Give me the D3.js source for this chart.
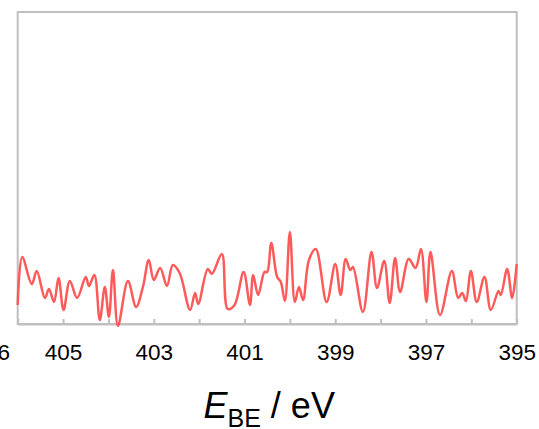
<!DOCTYPE html>
<html>
<head>
<meta charset="utf-8">
<script src="https://cdn.jsdelivr.net/npm/d3@7"></script>
<style>
  body { margin: 0; background: #fff; }
  svg text { font-family: "Liberation Sans", Arial, sans-serif; }
</style>
</head>
<body>
<div id="chart"></div>
<script>
// binding energy (eV) and intensity (arb. units)
var energy = [406.00, 405.90, 405.69, 405.58, 405.40, 405.31, 405.20, 405.10, 404.99, 404.85,
    404.69, 404.50, 404.43, 404.31, 404.19, 404.08, 403.99, 403.90, 403.79, 403.57,
    403.39, 403.24, 403.11, 403.00, 402.86, 402.71, 402.58, 402.43, 402.20, 402.09,
    402.02, 401.81, 401.72, 401.50, 401.37, 401.22, 401.02, 400.88, 400.81, 400.70,
    400.56, 400.50, 400.41, 400.28, 400.20, 400.11, 400.00, 399.89, 399.80, 399.71,
    399.58, 399.43, 399.19, 399.00, 398.88, 398.77, 398.67, 398.61, 398.39, 398.20,
    398.08, 397.92, 397.80, 397.68, 397.57, 397.38, 397.23, 397.11, 396.99, 396.90,
    396.69, 396.43, 396.29, 396.20, 396.12, 396.01, 395.88, 395.71, 395.57, 395.40,
    395.35, 395.21, 395.10, 395.00];
var intensity = [19, 67, 40, 53, 26, 35, 22, 46, 14, 43,
    26, 47, 38, 49, 4, 37, 7, 54, -2, 43,
    17, 37, 64, 44, 56, 38, 59, 51, 14, 31,
    20, 55, 50, 70, 15, 19, 52, 19, 49, 29,
    52, 52, 81, 47, 42, 23, 92, 22, 37, 24,
    64, 75, 22, 60, 29, 65, 54, 57, 12, 72,
    36, 63, 21, 66, 32, 65, 56, 75, 22, 72,
    9, 53, 26, 31, 23, 53, 22, 47, 14, 33,
    29, 55, 26, 60];
var tickValues = [406, 405, 404, 403, 402, 401, 400, 399, 398, 397, 396, 395];
var tickLabels = ["406", "405", "", "403", "", "401", "", "399", "", "397", "", "395"];
var axisTitle = "E";
var axisTitleSub = "BE";
var axisTitleUnit = " / eV";

var width = 539, height = 429;
var plotLeft = 17.7, plotRight = 516.7, plotTop = 12, plotBottom = 324;

var svg = d3.select("#chart")
    .append("svg")
    .attr("width", width)
    .attr("height", height);

var x = d3.scaleLinear().domain([406, 395]).range([plotLeft, plotRight]);
var y = d3.scaleLinear().domain([0, 312]).range([plotBottom, plotTop]);

// plot frame
svg.append("rect")
    .attr("x", plotLeft)
    .attr("y", plotTop)
    .attr("width", plotRight - plotLeft)
    .attr("height", plotBottom - plotTop)
    .style("fill", "none")
    .style("stroke", "#bfbfbf")
    .style("stroke-width", 2);

var xAxis = d3.axisBottom(x)
    .tickValues(tickValues)
    .tickSizeInner(-5)
    .tickSizeOuter(0)
    .tickPadding(20)
    .tickFormat(function(d, i) { return tickLabels[i]; });

var gx = svg.append("g")
    .attr("transform", "translate(0," + plotBottom + ")")
    .call(xAxis);
gx.select(".domain").style("stroke", "#bfbfbf").style("stroke-width", 2);
gx.selectAll(".tick line").style("stroke", "#bfbfbf").style("stroke-width", 2);
gx.selectAll(".tick text")
    .style("font-size", "22.5px")
    .style("fill", "#000");
// the 406 label sits clipped at the left edge
gx.selectAll(".tick text").filter(function(d) { return d === 406; })
    .attr("x", -27);

var line = d3.line()
    .x(function(d, i) { return x(energy[i]); })
    .y(function(d) { return y(d); })
    .curve(d3.curveCatmullRom.alpha(0.5));

svg.append("path")
    .datum(intensity)
    .attr("d", line)
    .style("fill", "none")
    .style("stroke", "#ff5a5a")
    .style("stroke-width", 2.5);

var title = svg.append("text")
    .attr("x", (plotLeft + plotRight) / 2 + 2)
    .attr("y", 418)
    .attr("text-anchor", "middle")
    .style("font-size", "36px")
    .style("fill", "#000");
title.append("tspan").style("font-style", "italic").text(axisTitle);
title.append("tspan").attr("dy", 9).style("font-size", "25px").text(axisTitleSub);
title.append("tspan").attr("dy", -9).text(axisTitleUnit);
</script>
</body>
</html>
